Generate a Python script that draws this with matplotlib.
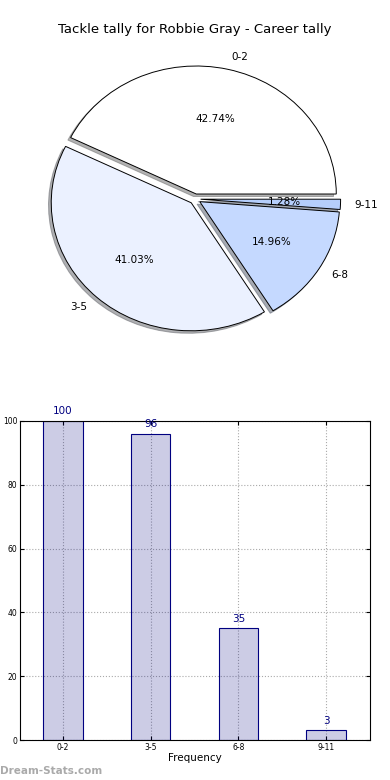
import matplotlib
matplotlib.use("Agg")
import matplotlib.pyplot as plt

categories = ["0-2", "3-5", "6-8", "9-11"]
values = [100, 96, 35, 3]
pie_colors = ["#ffffff", "#ebf1ff", "#c5d9ff", "#b5cefb"]
title = "Tackle tally for Robbie Gray - Career tally"

fig = plt.figure(figsize=(3.9, 7.8), dpi=100)
fig.patch.set_facecolor("white")

# Pie
axp = fig.add_axes([20/390, 1 - 359/780, 350/390, 320/780])
wedges, texts, autotexts = axp.pie(
    values, labels=categories, colors=pie_colors, explode=[0.04]*4,
    autopct="%1.2f%%", startangle=0, counterclock=True,
    shadow={"ox": -0.014, "oy": -0.014, "shade": 0.6},
    wedgeprops={"edgecolor": "black", "linewidth": 0.7},
    textprops={"fontsize": 7.5})
axp.set_aspect("auto")
axp.set_xlim(-1.25, 1.25)
axp.set_ylim(-1.25, 1.25)
fig.text(0.5, 1 - 30/780, title, ha="center", va="center", fontsize=9.5)

# Bar
axb = fig.add_axes([20/390, 1 - 740/780, 350/390, 319/780])
x = list(range(len(categories)))
axb.bar(x, values, width=0.45, color=(0, 0, 0.5, 0.2), edgecolor="navy",
        linewidth=0.8, zorder=2)
for xi, v in zip(x, values):
    axb.text(xi, v + 1.5, str(v), ha="center", va="bottom", color="navy",
             fontsize=7.5, zorder=3)
axb.set_xlim(-0.49, 3.5)
axb.set_ylim(0, 100)
axb.set_xticks(x)
axb.set_xticklabels(categories)
axb.set_yticks([0, 20, 40, 60, 80, 100])
axb.tick_params(direction="in", labelsize=5.5, length=3, top=True, right=True,
                pad=2)
axb.grid(True, linestyle=":", color="#aaaaaa", linewidth=0.8, zorder=0)
axb.set_axisbelow(True)
axb.set_xlabel("Frequency", fontsize=7.5, labelpad=1)
for s in axb.spines.values():
    s.set_linewidth(0.8)

fig.text(0.0, 1 - 771/780, "Dream-Stats.com", ha="left", va="center",
         fontsize=7.5, color="#aaaaaa", fontweight="bold")

fig.savefig("out.png", dpi=100)
